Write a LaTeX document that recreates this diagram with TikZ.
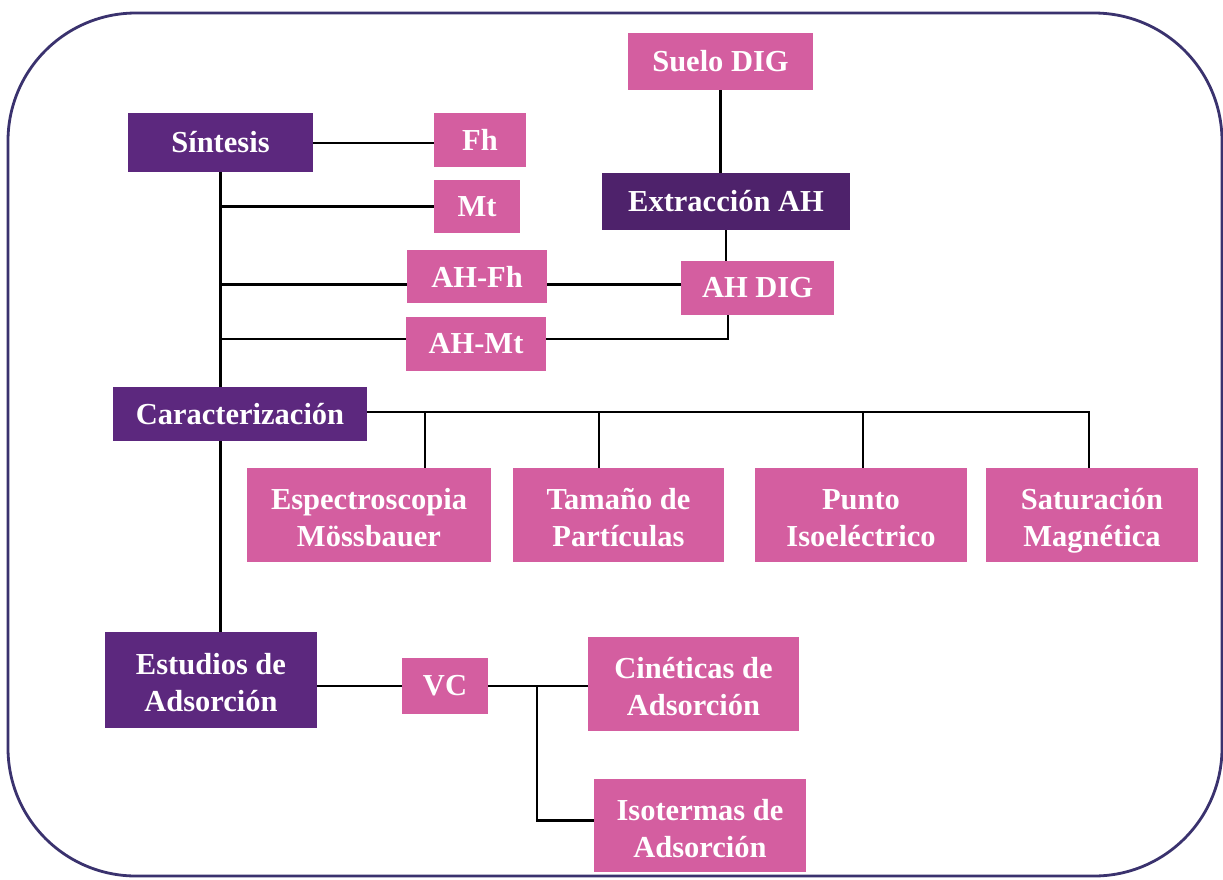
\documentclass[tikz,border=0pt]{standalone}
\usepackage{fontspec}
\setmainfont{Liberation Serif}
\definecolor{dpurple}{RGB}{92,40,126}
\definecolor{pinkbox}{RGB}{212,94,160}
\definecolor{frame}{RGB}{58,50,110}
\newcommand\topst{\rule{0pt}{38pt}}
\tikzset{
  base/.style={rectangle, inner sep=0pt, text=white, align=center,
    font=\fontsize{30.5}{37}\selectfont\bfseries},
  dark/.style={base, fill=dpurple},
  pink/.style={base, fill=pinkbox},
  link/.style={draw=black, line width=2.2pt}
}
\begin{document}
\begin{tikzpicture}[x=1pt,y=-1pt]
\useasboundingbox (0,0) rectangle (1223,879);
\fill[white] (0,0) rectangle (1223,879);
\draw[frame, line width=2.8pt, rounded corners=128pt] (8,13) rectangle (1222,876);

% nodes
\node[dark, minimum width=185pt, minimum height=59pt] (sint) at (220.5,142.5) {Síntesis};
\node[pink, minimum width=92pt, minimum height=54pt] (fh) at (480,140) {Fh};
\node[pink, minimum width=86pt, minimum height=53pt] (mt) at (477,206.5) {Mt};
\node[pink, minimum width=140pt, minimum height=53pt] (ahfh) at (477,276.5) {AH-Fh};
\node[pink, minimum width=140pt, minimum height=54pt] (ahmt) at (476,344) {AH-Mt};
\node[pink, minimum width=185pt, minimum height=57pt] (suelo) at (720.5,61.5) {Suelo DIG};
\node[dark, minimum width=248pt, minimum height=57pt, fill=dpurple!85!black] (extr) at (726,201.5) {Extracción AH};
\node[pink, minimum width=153pt, minimum height=54pt] (ahdig) at (757.5,288) {AH DIG};
\node[dark, minimum width=254pt, minimum height=54pt] (carac) at (240,414) {Caracterización};
\node[pink, minimum width=244pt, minimum height=94pt] (esp) at (369,515) {\topst Espectroscopia\\Mössbauer\strut};
\node[pink, minimum width=211pt, minimum height=94pt] (tam) at (618.5,515) {\topst Tamaño de\\Partículas\strut};
\node[pink, minimum width=212pt, minimum height=94pt] (punto) at (861,515) {\topst Punto\\Isoeléctrico\strut};
\node[pink, minimum width=212pt, minimum height=94pt] (satur) at (1092,515) {\topst Saturación\\Magnética\strut};
\node[dark, minimum width=212pt, minimum height=96pt] (estud) at (211,680) {\topst Estudios de\\Adsorción\strut};
\node[pink, minimum width=86pt, minimum height=56pt] (vc) at (445,686) {VC};
\node[pink, minimum width=211pt, minimum height=94pt] (cin) at (693.5,684) {\topst Cinéticas de\\Adsorción\strut};
\node[pink, minimum width=212pt, minimum height=93pt] (iso) at (700,825.5) {\topst Isotermas de\\Adsorción\strut};

% connectors: Síntesis branch
\draw[link] ([yshift=-3pt]fh.west) -- ([yshift=-3pt]fh.west -| sint.east);
\draw[link] (sint.south) -- (sint.south |- carac.north);
\draw[link] (mt.west) -- (mt.west -| sint.south);
\draw[link] ([yshift=-8pt]ahfh.west) -- ([yshift=-8pt]ahfh.west -| sint.south);
\draw[link] ([yshift=5pt]ahmt.west) -- ([yshift=5pt]ahmt.west -| sint.south);

% Suelo / Extracción / AH DIG
\draw[link] (suelo.south) -- (suelo.south |- extr.north);
\draw[link] (extr.south) -- (extr.south |- ahdig.north);
\draw[link] ([yshift=-8pt]ahfh.east) -- ([yshift=-8pt]ahfh.east -| ahdig.west);
\draw[link] ([yshift=5pt]ahmt.east) -| ([xshift=-29.5pt]ahdig.south);

% Caracterización
\draw[link] ([yshift=2pt]carac.east) -| ([xshift=-3pt]satur.north);
\draw[link] ([xshift=56pt]esp.north) -- ([xshift=56pt]esp.north |- 0,412);
\draw[link] ([xshift=-19.5pt]tam.north) -- ([xshift=-19.5pt]tam.north |- 0,412);
\draw[link] ([xshift=2pt]punto.north) -- ([xshift=2pt]punto.north |- 0,412);
\draw[link] (sint.south |- carac.south) -- (sint.south |- estud.north);

% Estudios de Adsorción
\draw[link] (vc.west) -- (vc.west -| estud.east);
\draw[link] (vc.east) -- (vc.east -| cin.west);
\coordinate (br) at (537,686);
\draw[link] (br) |- ([yshift=5pt]iso.west);
\end{tikzpicture}
\end{document}
